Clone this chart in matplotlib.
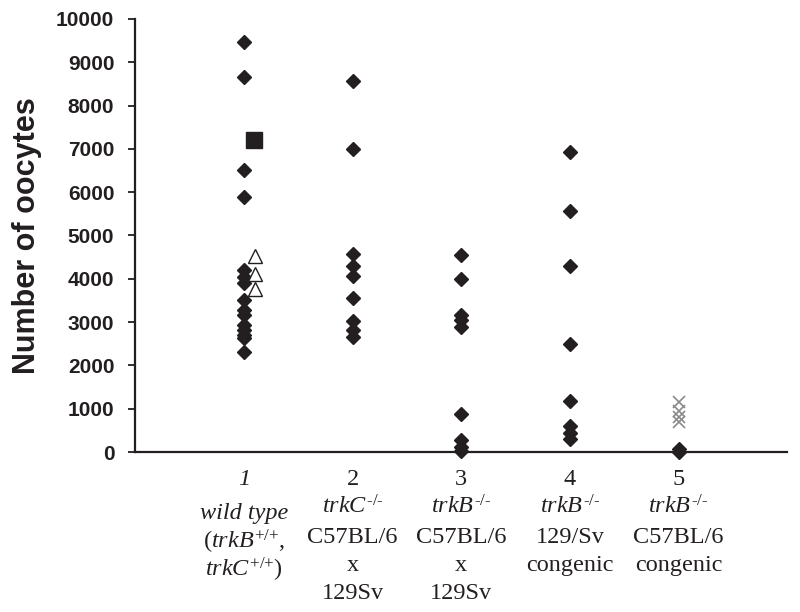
import matplotlib
matplotlib.use('Agg')
import matplotlib.pyplot as plt
import numpy as np

plt.rcParams['mathtext.fontset'] = 'custom'
plt.rcParams['mathtext.rm'] = 'Liberation Serif'
plt.rcParams['mathtext.it'] = 'Liberation Serif:italic'

# oocyte counts per group
g1 = [9470, 8650, 6520, 5880, 4200, 4050, 3900, 3500, 3270, 3160, 2930, 2820, 2700, 2630, 2300]
g1_square = [7200]
g1_triangles = [4530, 4110, 3760]
g2 = [8570, 7000, 4570, 4300, 4070, 3560, 3020, 2820, 2660]
g3 = [4550, 4000, 3160, 3050, 2890, 880, 270, 110, 20]
g4 = [6930, 5570, 4300, 2500, 1180, 600, 440, 300]
g5 = [70, 0]
g5_crosses = [1150, 950, 800, 700]

groups = [g1, g2, g3, g4, g5]
group_pos = [1, 2, 3, 4, 5]

labels = [
    ['1', 'wild type', r'$\mathit{(trkB}^{\text{+/+}}\mathit{,}$', r'$\mathit{trkC}^{\text{+/+}}\mathit{)}$'],
    ['2', r'$\mathit{trkC}^{\text{-/-}}$', 'C57BL/6', 'x', '129Sv'],
    ['3', r'$\mathit{trkB}^{\text{-/-}}$', 'C57BL/6', 'x', '129Sv'],
    ['4', r'$\mathit{trkB}^{\text{-/-}}$', '129/Sv', 'congenic'],
    ['5', r'$\mathit{trkB}^{\text{-/-}}$', 'C57BL/6', 'congenic'],
]

dark = '#231f20'

fig = plt.figure(figsize=(8, 6.12), dpi=100)
ax = fig.add_axes([0.169, 0.2614, 0.815, 0.7076])

for x, vals in zip(group_pos, groups):
    ax.plot([x] * len(vals), vals, 'D', color=dark, ms=7.5, clip_on=False, zorder=3)

ax.plot([1.09] * len(g1_square), g1_square, 's', color=dark, ms=11, clip_on=False, zorder=3)
ax.plot([1.1] * len(g1_triangles), g1_triangles, '^', mfc='white', mec=dark,
        mew=1.0, ms=9.5, clip_on=False, zorder=3)
ax.plot([5] * len(g5_crosses), g5_crosses, 'x', color='#8a8a8a', ms=8, mew=1.2,
        clip_on=False, zorder=3)

ax.set_xlim(0, 6)
ax.set_ylim(0, 10000)
ax.set_yticks(np.arange(0, 10001, 1000))
ax.set_xticks([])
ax.spines['top'].set_visible(False)
ax.spines['right'].set_visible(False)
for s in ['left', 'bottom']:
    ax.spines[s].set_linewidth(1.6)
    ax.spines[s].set_color(dark)
ax.tick_params(axis='y', direction='out', length=5, width=1.3, color=dark, pad=10)
for t in ax.get_yticklabels():
    t.set_fontfamily('Liberation Sans')
    t.set_fontweight('bold')
    t.set_fontsize(15)
    t.set_color(dark)

ax.set_ylabel('Number of oocytes', fontfamily='Liberation Sans', fontweight='bold',
              fontsize=22, color=dark, labelpad=10)

# category labels below the axis, one line at a time (pixel baselines)
rows_wt = [485, 519, 549, 577]
rows = [485, 514, 543, 571, 599]
for x, lines in zip(group_pos, labels):
    fx = ax.transData.transform((x, 0))[0] / fig.bbox.width
    style = 'italic' if x == 1 else 'normal'
    ys = rows_wt if x == 1 else rows
    for i, line in enumerate(lines):
        yy = 1 - ys[i] / 612.0
        fig.text(fx, yy, line, ha='center', va='baseline', fontfamily='Liberation Serif',
                 fontstyle=style, fontsize=17.5, color=dark)

fig.savefig('out.png', dpi=100)
